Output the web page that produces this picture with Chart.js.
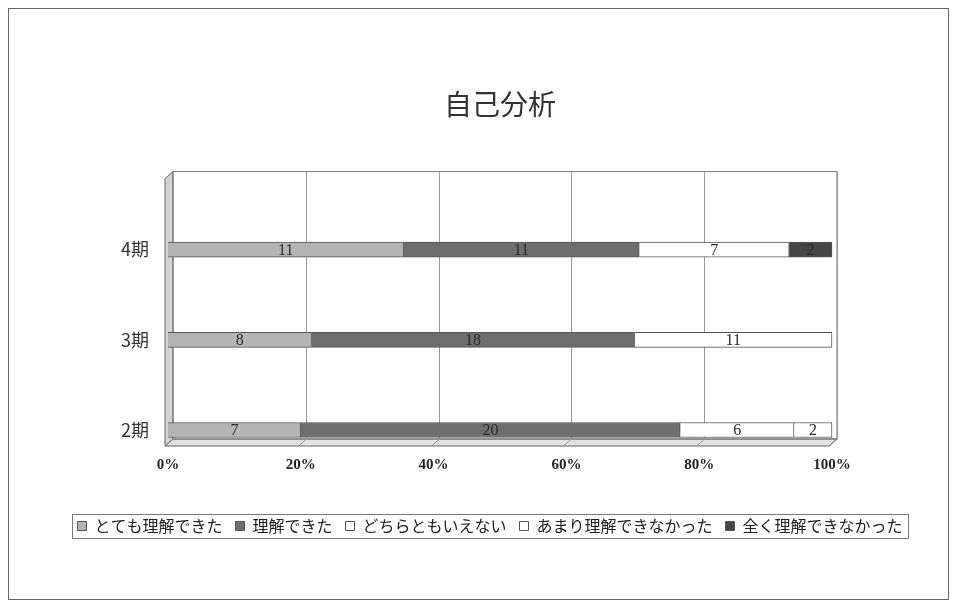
<!DOCTYPE html>
<html>
<head>
<meta charset="utf-8">
<script src="https://cdn.jsdelivr.net/npm/chart.js@4"></script>
<style>
  body { margin: 0; background: #fff; }
  #wrap { width: 955px; height: 603px; }
</style>
</head>
<body>
<div id="wrap"><canvas id="chart1" width="955" height="603"></canvas></div>
<script>
// データ
var periods = ['4期', '3期', '2期'];
var seriesNames = ['とても理解できた', '理解できた', 'どちらともいえない', 'あまり理解できなかった', '全く理解できなかった'];
var totemo = [11, 8, 7];
var rikai = [11, 18, 20];
var dochira = [7, 11, 6];
var amari = [0, 0, 2];
var mattaku = [2, 0, 0];
var xTicks = [0, 20, 40, 60, 80, 100];

var seriesValues = [totemo, rikai, dochira, amari, mattaku];
var seriesColors = ['#b4b4b4', '#6e6e6e', '#ffffff', '#ffffff', '#454545'];

// 合計 (100%積み上げ用)
var totals = periods.map(function (p, i) {
    return seriesValues.reduce(function (s, arr) { return s + arr[i]; }, 0);
});

var datasets = seriesValues.map(function (vals, k) {
    return {
        label: seriesNames[k],
        data: vals.map(function (v, i) { return v / totals[i] * 100; }),
        raw: vals,
        backgroundColor: seriesColors[k],
        borderColor: '#555',
        borderWidth: 1,
        barThickness: 15,
        clip: false
    };
});

// 枠線と3Dの壁
var framePlugin = {
    id: 'frame',
    beforeDraw: function (chart) {
        var c = chart.ctx;
        c.save();
        c.fillStyle = '#fff';
        c.fillRect(0, 0, chart.width, chart.height);
        c.strokeStyle = '#666';
        c.lineWidth = 1;
        c.strokeRect(8.5, 8.5, 940, 591);
        c.restore();
    },
    beforeDatasetsDraw: function (chart) {
        var c = chart.ctx;
        var xs = chart.scales.x;
        var a = chart.chartArea;
        var dx = 5, top = a.top - 78, bot = a.bottom + 9;
        var fx = -8, fy = 7;
        var L = xs.getPixelForValue(0) + dx, R = xs.getPixelForValue(100) + dx;
        c.save();
        c.lineWidth = 1;
        // 左の壁
        c.fillStyle = '#d4d4d4';
        c.strokeStyle = '#666';
        c.beginPath();
        c.moveTo(L, top); c.lineTo(L, bot); c.lineTo(L + fx, bot + fy); c.lineTo(L + fx, top + fy);
        c.closePath(); c.fill(); c.stroke();
        // 床
        c.fillStyle = '#e2e2e2';
        c.beginPath();
        c.moveTo(L, bot); c.lineTo(R, bot); c.lineTo(R + fx, bot + fy); c.lineTo(L + fx, bot + fy);
        c.closePath(); c.fill(); c.stroke();
        // 奥の壁
        c.strokeStyle = '#777';
        c.strokeRect(L, top, R - L, bot - top);
        c.strokeStyle = '#999';
        xTicks.forEach(function (v) {
            var x = Math.round(xs.getPixelForValue(v) + dx) + 0.5;
            c.beginPath();
            c.moveTo(x, top); c.lineTo(x, bot); c.lineTo(x + fx, bot + fy);
            c.stroke();
        });
        c.restore();
    },
    afterDatasetsDraw: function (chart) {
        var c = chart.ctx;
        c.save();
        c.font = '16px "Liberation Serif"';
        c.fillStyle = '#2a2a2a';
        c.textAlign = 'center';
        c.textBaseline = 'middle';
        chart.data.datasets.forEach(function (ds, k) {
            var meta = chart.getDatasetMeta(k);
            meta.data.forEach(function (bar, i) {
                var v = ds.raw[i];
                if (!v) return;
                c.fillText(String(v), (bar.x + bar.base) / 2, bar.y + 1);
            });
        });
        c.restore();
    },
    afterDraw: function (chart) {
        var lg = chart.legend;
        if (!lg || !lg.legendHitBoxes.length) return;
        var hb = lg.legendHitBoxes;
        var first = hb[0], last = hb[hb.length - 1];
        var c = chart.ctx;
        c.save();
        c.strokeStyle = '#777';
        c.lineWidth = 1;
        var x0 = Math.round(first.left - 5) + 0.5;
        var x1 = Math.round(last.left + last.width + 5) + 0.5;
        var y0 = Math.round(first.top - 4) + 0.5;
        var y1 = Math.round(first.top + first.height + 4) + 0.5;
        c.strokeRect(x0, y0, x1 - x0, y1 - y0);
        c.restore();
    }
};

var ctx1 = document.getElementById('chart1').getContext('2d');
var chart1 = new Chart(ctx1, {
    type: 'bar',
    data: { labels: periods, datasets: datasets },
    options: {
        indexAxis: 'y',
        responsive: false,
        animation: false,
        layout: { padding: { left: 35, right: 10, top: 80, bottom: 59 } },
        scales: {
            x: {
                stacked: true,
                min: 0,
                max: 100,
                afterBuildTicks: function (s) { s.ticks = xTicks.map(function (v) { return { value: v }; }); },
                afterFit: function (s) { s.height = 75; },
                grid: { display: false },
                border: { display: false },
                ticks: {
                    padding: 18,
                    color: '#222',
                    font: { family: '"Liberation Serif"', size: 15, weight: 'bold' },
                    callback: function (v) { return v + '%'; }
                }
            },
            y: {
                stacked: true,
                offset: false,
                afterFit: function (s) { s.width = 133; },
                grid: { display: false },
                border: { display: false },
                ticks: {
                    padding: 11,
                    color: '#333',
                    font: { family: '"Noto Sans CJK JP"', size: 18 }
                }
            },
            yRight: {
                position: 'right',
                afterFit: function (s) { s.width = 113; },
                grid: { display: false },
                border: { display: false },
                ticks: { display: false }
            }
        },
        plugins: {
            title: {
                display: true,
                text: '自己分析',
                fullSize: false,
                color: '#333',
                font: { family: '"Noto Sans CJK JP"', size: 28, weight: 'normal' },
                padding: { top: 8, bottom: 128 }
            },
            legend: {
                position: 'bottom',
                labels: {
                    boxWidth: 9,
                    boxHeight: 9,
                    padding: 13,
                    color: '#222',
                    font: { family: '"Noto Sans CJK JP"', size: 16 }
                }
            },
            tooltip: { enabled: false }
        }
    },
    plugins: [framePlugin]
});
</script>
</body>
</html>
